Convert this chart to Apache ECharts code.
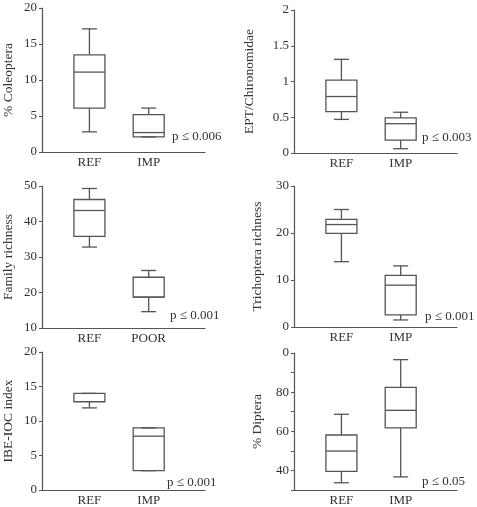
<!DOCTYPE html>
<html>
<head>
<meta charset="utf-8">
<script src="https://cdn.jsdelivr.net/npm/echarts@6/dist/echarts.min.js"></script>
<style>
  html, body { margin: 0; padding: 0; background: #fff; }
  #chart { width: 477px; height: 507px; }
</style>
</head>
<body>
<div id="chart"></div>
<script>
// box values: [min, Q1, median, Q3, max] per group
const groupsImp = ['REF', 'IMP']
const groupsPoor = ['REF', 'POOR']
const groupX = [0.8, 1.8]

const coleoptera = [[2.8, 6.1, 11.1, 13.5, 17.1], [2.1, 2.1, 2.7, 5.2, 6.1]]
const eptChiro = [[0.47, 0.58, 0.79, 1.02, 1.31], [0.06, 0.18, 0.41, 0.49, 0.57]]
const familyRich = [[32.8, 35.8, 43.1, 46.2, 49.3], [14.6, 18.7, 18.7, 24.3, 26.2]]
const trichoRich = [[13.9, 19.9, 21.8, 22.9, 25.0], [1.5, 2.6, 8.9, 11.0, 13.0]]
const ibeIoc = [[11.9, 12.8, 12.8, 14.0, 14.0], [2.8, 2.8, 7.8, 9.0, 9.0]]
const diptera = [[33.7, 39.5, 49.9, 58.1, 68.7], [36.7, 61.7, 70.7, 82.4, 96.6]]

const pValues = ['p ≤ 0.006', 'p ≤ 0.003', 'p ≤ 0.001', 'p ≤ 0.001', 'p ≤ 0.001', 'p ≤ 0.05']
const yNames = ['% Coleoptera', 'EPT/Chironomidae', 'Family richness', 'Trichoptera richness', 'IBE-IOC index', '% Diptera']

// the top label of the diptera axis is cut in the source
const dipteraTickVals = [40, 60, 80, 100]
const dipteraTickText = ['40', '60', '80', '0']

const FONT = 'Liberation Serif'
const INK = '#333'
const LINE = '#555'

const panels = [
  { grid: { left: 41, top: 8, width: 164, height: 144 }, y: [0, 20, 5], data: coleoptera, groups: groupsImp, gap: 27, p: [172, 137] },
  { grid: { left: 294, top: 10, width: 163, height: 143 }, y: [0, 2, 0.5], data: eptChiro, groups: groupsImp, gap: 38, p: [422, 138] },
  { grid: { left: 41, top: 186, width: 164, height: 142 }, y: [10, 50, 10], data: familyRich, groups: groupsPoor, gap: 27, p: [170, 316] },
  { grid: { left: 294, top: 186, width: 163, height: 141 }, y: [0, 30, 10], data: trichoRich, groups: groupsImp, gap: 30, p: [425, 317] },
  { grid: { left: 41, top: 352, width: 164, height: 141 }, y: [0, 20, 5], data: ibeIoc, groups: groupsImp, gap: 27, p: [167, 483] },
  { grid: { left: 294, top: 353, width: 163, height: 141 }, y: [30, 100, 10], data: diptera, groups: groupsImp, gap: 30, p: [422, 482] },
]

function renderBox(params, api) {
  const x = api.value(0)
  const lo = api.coord([x, api.value(1)])
  const q1 = api.coord([x, api.value(2)])
  const md = api.coord([x, api.value(3)])
  const q3 = api.coord([x, api.value(4)])
  const hi = api.coord([x, api.value(5)])
  const cx = lo[0]
  const hw = 15.5
  const cw = 7.5
  const style = { stroke: LINE, lineWidth: 1.3, fill: null }
  const ln = (x1, y1, x2, y2) => ({ type: 'line', shape: { x1, y1, x2, y2 }, style })
  return {
    type: 'group',
    children: [
      ln(cx, hi[1], cx, q3[1]),
      ln(cx - cw, hi[1], cx + cw, hi[1]),
      ln(cx, q1[1], cx, lo[1]),
      ln(cx - cw, lo[1], cx + cw, lo[1]),
      { type: 'rect', shape: { x: cx - hw, y: q3[1], width: hw * 2, height: q1[1] - q3[1] }, style },
      ln(cx - hw, md[1], cx + hw, md[1]),
    ],
  }
}

const option = {
  animation: false,
  backgroundColor: '#fff',
  grid: [],
  xAxis: [],
  yAxis: [],
  series: [],
  graphic: [],
}

panels.forEach((p, i) => {
  option.grid.push(p.grid)
  option.xAxis.push({
    type: 'value',
    gridIndex: i,
    min: 0,
    max: 2.75,
    splitLine: { show: false },
    axisTick: { show: false },
    axisLine: { lineStyle: { color: LINE, width: 1.2 } },
    axisLabel: {
      customValues: groupX,
      margin: 4,
      color: INK,
      fontFamily: FONT,
      fontSize: 13,
      formatter: (v) => p.groups[groupX.indexOf(v)] || '',
    },
  })
  const isDiptera = p.data === diptera
  option.yAxis.push({
    type: 'value',
    gridIndex: i,
    min: p.y[0],
    max: p.y[1],
    interval: p.y[2],
    name: yNames[i],
    nameLocation: 'middle',
    nameGap: p.gap,
    nameTextStyle: { color: INK, fontFamily: FONT, fontSize: 13.5 },
    splitLine: { show: false },
    axisLine: { show: true, lineStyle: { color: LINE, width: 1.2 } },
    axisTick: { show: true, length: 3, lineStyle: { color: LINE } },
    axisLabel: {
      margin: 5,
      color: INK,
      fontFamily: FONT,
      fontSize: 13,
      formatter: isDiptera
        ? (v) => {
            const k = dipteraTickVals.indexOf(v)
            return k < 0 ? '' : dipteraTickText[k]
          }
        : null,
    },
  })
  option.series.push({
    type: 'custom',
    xAxisIndex: i,
    yAxisIndex: i,
    renderItem: renderBox,
    encode: { x: 0, y: [1, 2, 3, 4, 5] },
    data: p.data.map((d, k) => [groupX[k]].concat(d)),
  })
  option.graphic.push({
    type: 'text',
    x: p.p[0],
    y: p.p[1],
    style: {
      text: pValues[i],
      fill: INK,
      font: '13px "' + FONT + '"',
      verticalAlign: 'middle',
    },
  })
})

const chart = echarts.init(document.getElementById('chart'))
chart.setOption(option)
</script>
</body>
</html>
